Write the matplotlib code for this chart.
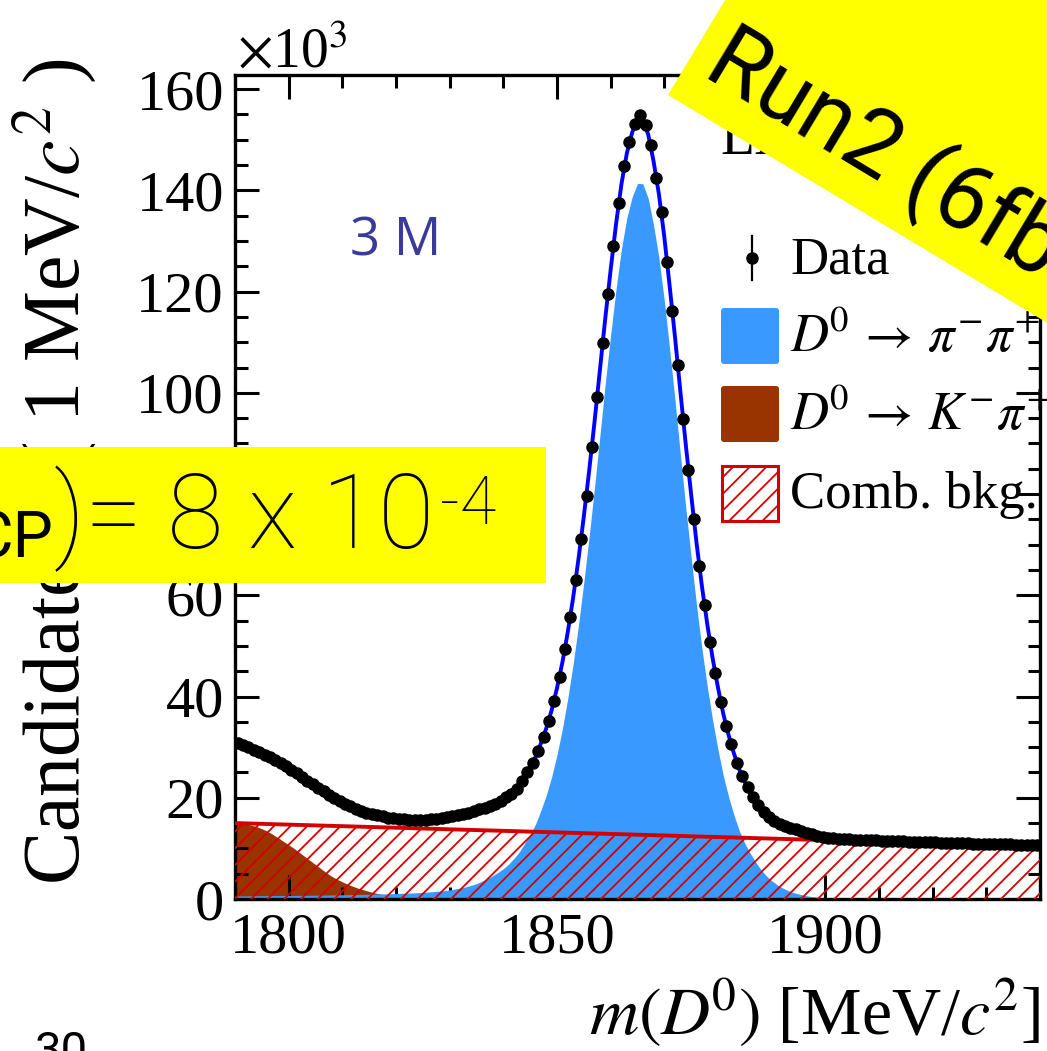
import numpy as np
import matplotlib
matplotlib.use("Agg")
import matplotlib.pyplot as plt
from matplotlib.patches import Rectangle, Polygon, FancyBboxPatch
from matplotlib.ticker import MultipleLocator

plt.rcParams["font.family"] = ["Liberation Serif", "DejaVu Serif"]
plt.rcParams["mathtext.fontset"] = "stix"
plt.rcParams["hatch.linewidth"] = 1.3

# ---------------------------------------------------------------------------
# m(D0) spectrum, counts in units of 10^3 candidates per 1 MeV/c^2
# ---------------------------------------------------------------------------
x_lo, x_hi = 1790, 1940
bin_centres = np.arange(x_lo + 0.5, x_hi, 1.0)

data_counts = [
    30.8, 30.4, 30.0, 29.5, 29.0, 28.5, 28.0, 27.4, 26.8, 26.2,
    25.5, 24.8, 24.1, 23.4, 22.7, 22.0, 21.3, 20.6, 20.0, 19.4,
    18.8, 18.3, 17.8, 17.4, 17.0, 16.7, 16.5, 16.3, 16.1, 16.0,
    15.9, 15.8, 15.7, 15.7, 15.7, 15.7, 15.8, 15.9, 16.0, 16.2,
    16.4, 16.6, 16.8, 17.0, 17.3, 17.7, 18.0, 18.4, 18.8, 19.4,
    20.1, 20.8, 21.7, 23.4, 25.1, 26.8, 29.2, 32.0, 35.2, 39.2,
    43.8, 49.3, 55.8, 63.0, 71.2, 79.7, 89.4, 99.1, 109.8, 119.5,
    129.1, 137.5, 144.9, 149.6, 153.2, 154.9, 153.0, 148.9, 142.5, 135.8,
    125.8, 116.2, 105.5, 94.9, 84.7, 75.0, 65.7, 58.1, 50.7, 44.6,
    38.9, 34.2, 30.6, 26.9, 24.3, 22.1, 20.2, 18.6, 17.2, 16.2,
    15.5, 14.9, 14.4, 14.1, 13.8, 13.5, 13.1, 12.8, 12.5, 12.3,
    12.1, 12.0, 11.9, 11.8, 11.8, 11.7, 11.7, 11.6, 11.6, 11.6,
    11.5, 11.5, 11.4, 11.4, 11.4, 11.3, 11.3, 11.3, 11.2, 11.2,
    11.2, 11.1, 11.1, 11.1, 11.0, 11.0, 11.0, 10.9, 10.9, 10.9,
    10.9, 10.8, 10.8, 10.8, 10.8, 10.7, 10.7, 10.7, 10.7, 10.7,
]

# Fit components evaluated at every MeV/c^2 from 1790 to 1940
fit_mass = np.arange(x_lo, x_hi + 1)

signal_pipi = [
    0.60, 0.61, 0.62, 0.63, 0.64, 0.65, 0.66, 0.67, 0.68, 0.69,
    0.70, 0.71, 0.72, 0.73, 0.74, 0.75, 0.76, 0.78, 0.80, 0.82,
    0.84, 0.86, 0.88, 0.90, 0.92, 0.94, 0.96, 0.99, 1.02, 1.05,
    1.08, 1.12, 1.16, 1.20, 1.25, 1.31, 1.38, 1.46, 1.55, 1.66,
    1.80, 1.97, 2.17, 2.40, 2.70, 3.05, 3.50, 4.00, 4.60, 5.25,
    6.00, 6.90, 8.05, 9.35, 11.05, 12.75, 14.80, 17.50, 20.50, 24.10,
    28.5, 33.6, 39.6, 46.4, 54.1, 62.6, 71.7, 81.4, 91.6, 101.9,
    111.5, 120.5, 128.4, 134.5, 138.7, 141.4, 141.3, 138.4, 133.1, 126.6,
    118.2, 108.5, 98.4, 87.7, 77.3, 67.5, 58.0, 49.5, 42.0, 35.3,
    29.5, 24.3, 20.1, 16.5, 13.4, 11.0, 9.05, 7.30, 5.80, 4.60,
    3.60, 2.85, 2.20, 1.70, 1.30, 1.00, 0.75, 0.55, 0.42, 0.32,
    0.25, 0.20, 0.16, 0.13, 0.11, 0.09, 0.08, 0.07, 0.06, 0.05,
    0.05, 0.05, 0.04, 0.04, 0.04, 0.04, 0.04, 0.03, 0.03, 0.03,
    0.03, 0.03, 0.03, 0.03, 0.02, 0.02, 0.02, 0.02, 0.02, 0.02,
    0.02, 0.02, 0.02, 0.02, 0.02, 0.02, 0.02, 0.02, 0.02, 0.02,
    0.02,
]

misid_kpi = [
    14.9, 14.9, 14.8, 14.6, 14.3, 13.9, 13.4, 12.8, 12.1, 11.4,
    10.7, 10.0, 9.2, 8.4, 7.6, 6.8, 6.0, 5.2, 4.5, 3.9,
    3.4, 2.9, 2.5, 2.1, 1.8, 1.5, 1.2, 1.0, 0.8, 0.6,
    0.45, 0.35, 0.25, 0.18, 0.12, 0.08, 0.05, 0.03, 0.02, 0.01,
] + [0.0] * 111

comb_bkg = [
    15.00, 14.97, 14.94, 14.91, 14.88, 14.85, 14.82, 14.79, 14.75, 14.72,
    14.69, 14.66, 14.63, 14.60, 14.57, 14.54, 14.51, 14.48, 14.45, 14.42,
    14.39, 14.36, 14.33, 14.29, 14.26, 14.23, 14.20, 14.17, 14.14, 14.11,
    14.08, 14.05, 14.02, 13.99, 13.96, 13.93, 13.90, 13.87, 13.83, 13.80,
    13.77, 13.74, 13.71, 13.68, 13.65, 13.62, 13.59, 13.56, 13.53, 13.50,
    13.47, 13.44, 13.41, 13.37, 13.34, 13.31, 13.28, 13.25, 13.22, 13.19,
    13.16, 13.13, 13.10, 13.07, 13.04, 13.01, 12.98, 12.95, 12.91, 12.88,
    12.85, 12.82, 12.79, 12.76, 12.73, 12.70, 12.67, 12.64, 12.61, 12.58,
    12.55, 12.52, 12.49, 12.45, 12.42, 12.39, 12.36, 12.33, 12.30, 12.27,
    12.24, 12.21, 12.18, 12.15, 12.12, 12.09, 12.06, 12.03, 11.99, 11.96,
    11.93, 11.90, 11.87, 11.84, 11.81, 11.78, 11.75, 11.72, 11.69, 11.66,
    11.63, 11.60, 11.57, 11.53, 11.50, 11.47, 11.44, 11.41, 11.38, 11.35,
    11.32, 11.29, 11.26, 11.23, 11.20, 11.17, 11.14, 11.11, 11.07, 11.04,
    11.01, 10.98, 10.95, 10.92, 10.89, 10.86, 10.83, 10.80, 10.77, 10.74,
    10.71, 10.68, 10.65, 10.61, 10.58, 10.55, 10.52, 10.49, 10.46, 10.43,
    10.40,
]

x_ticks = [1800, 1850, 1900]
y_ticks = [0, 20, 40, 60, 80, 100, 120, 140, 160]

legend_labels = ["Data", r"$D^{\!0}\,\rightarrow\,\pi^{-}\pi^{+}$",
                 r"$D^{\!0}\,\rightarrow\,K^{-}\pi^{+}$", "Comb. bkg."]

# ---------------------------------------------------------------------------
C_SIG = "#3999FF"
C_KPI = "#993300"
C_BKG = "#D40000"
C_FIT = "#0000FF"
C_LBL = "#3A3A9A"
YELLOW = "#FFFF00"
SANS = ["Roboto", "Liberation Sans", "DejaVu Sans"]

W, H = 1047, 1051
fig = plt.figure(figsize=(W / 100, H / 100), dpi=100)

ax = fig.add_axes([235 / W, 1 - 899 / H, (1040 - 235) / W, (899 - 75) / H])

data = np.array(data_counts)
sig = np.array(signal_pipi)
kpi = np.array(misid_kpi)
bkg = np.array(comb_bkg)
total = sig + kpi + bkg

ax.fill_between(fit_mass, 0, kpi, color=C_KPI, lw=0, zorder=1)
ax.fill_between(fit_mass, 0, sig, color=C_SIG, lw=0, zorder=2)
ax.fill_between(fit_mass, 0, bkg, facecolor="none", edgecolor=C_BKG,
                hatch="//", lw=0, zorder=3)
ax.plot(fit_mass, bkg, color=C_BKG, lw=2.8, zorder=3.5)
ax.plot(fit_mass, total, color=C_FIT, lw=2.8, zorder=4)
ax.errorbar(bin_centres, data, yerr=np.sqrt(data * 1000.0) / 1000.0,
            fmt="o", color="black", ms=8.0, elinewidth=1.5, capsize=0,
            zorder=5)

ax.set_xlim(x_lo, x_hi)
ax.set_ylim(0, 162.8)
ax.set_xticks(x_ticks)
ax.set_yticks(y_ticks)
ax.xaxis.set_minor_locator(MultipleLocator(10))
ax.yaxis.set_minor_locator(MultipleLocator(5))
ax.tick_params(which="both", direction="in", top=True, right=True,
               width=2.2, labelsize=42, colors="black")
ax.tick_params(which="major", length=17)
ax.tick_params(which="minor", length=9)
ax.tick_params(axis="y", pad=8)
ax.tick_params(axis="x", pad=10)
for s in ax.spines.values():
    s.set_linewidth(2.4)

# overlay axes in pixel units (origin top-left) for labels and annotations
ov = fig.add_axes([0, 0, 1, 1], facecolor="none")
ov.set_xlim(0, W)
ov.set_ylim(H, 0)
ov.axis("off")

# axis titles (ROOT style: aligned to the axis ends)
ov.text(1040, 1035, r"$m(D^{\!0})$ [MeV/$c^2$]", ha="right", va="baseline",
        fontsize=49)
ov.text(55, 58, r"Candidates / ( 1 MeV/$c^2$ )", rotation=90,
        ha="center", va="top", fontsize=57.5)
ov.text(237, 68, r"$\times$10$^3$", ha="left", va="baseline", fontsize=40)

# legend
ov.plot([752, 752], [236, 280], color="black", lw=1.6)
ov.plot([752], [258], "o", color="black", ms=8.0)
ov.add_patch(FancyBboxPatch((721, 308), 58, 56,
                            boxstyle="round,pad=0,rounding_size=3",
                            fc=C_SIG, ec="none"))
ov.add_patch(FancyBboxPatch((721, 386), 58, 56,
                            boxstyle="round,pad=0,rounding_size=3",
                            fc=C_KPI, ec="none"))
ov.add_patch(Rectangle((722, 466), 56, 55, fc="none", ec=C_BKG,
                       hatch="//", lw=2.2))
for label, yb in zip(legend_labels, [273, 352, 430, 508]):
    ov.text(790, yb, label, ha="left", va="baseline", fontsize=38)

ov.text(720, 154, "LHCb", ha="left", va="baseline", fontsize=40)
ov.text(350, 255, "3 M", ha="left", va="baseline", fontsize=38,
        color=C_LBL, family=["Open Sans", "DejaVu Sans"])

# highlighted annotations
ang = np.deg2rad(31)
d = np.array([np.cos(ang), np.sin(ang)])
n = np.array([np.sin(ang), -np.cos(ang)])
p0 = np.array([668.0, 95.0])
band = [p0, p0 + 900 * d, p0 + 900 * d + 400 * n, p0 + 400 * n]
ov.add_patch(Polygon(band, closed=True, fc=YELLOW, ec="none", zorder=6))
ov.text(700, 75, r"Run2 (6fb$^{-1}$)", rotation=-31, rotation_mode="anchor",
        ha="left", va="baseline", fontsize=66, zorder=7, family=SANS)

ov.add_patch(Rectangle((0, 447), 546, 136, fc=YELLOW, ec="none", zorder=6))
ov.text(53, 557, "CP", ha="right", va="baseline", fontsize=46, zorder=7,
        family=SANS)
ov.text(-40, 548, "σ(ΔA", ha="right", va="baseline", fontsize=74, zorder=7,
        family=SANS, fontweight="light")
ov.text(54, 548, ")= 8 x 10", ha="left", va="baseline", fontsize=74,
        zorder=7, family=SANS, fontweight="light")
ov.text(496, 524, "-4", ha="right", va="baseline", fontsize=48, zorder=7,
        family=SANS, fontweight="light")

ov.text(35, 1065, "30", ha="left", va="baseline", fontsize=34,
        family=SANS)

fig.savefig("out.png", dpi=100)
